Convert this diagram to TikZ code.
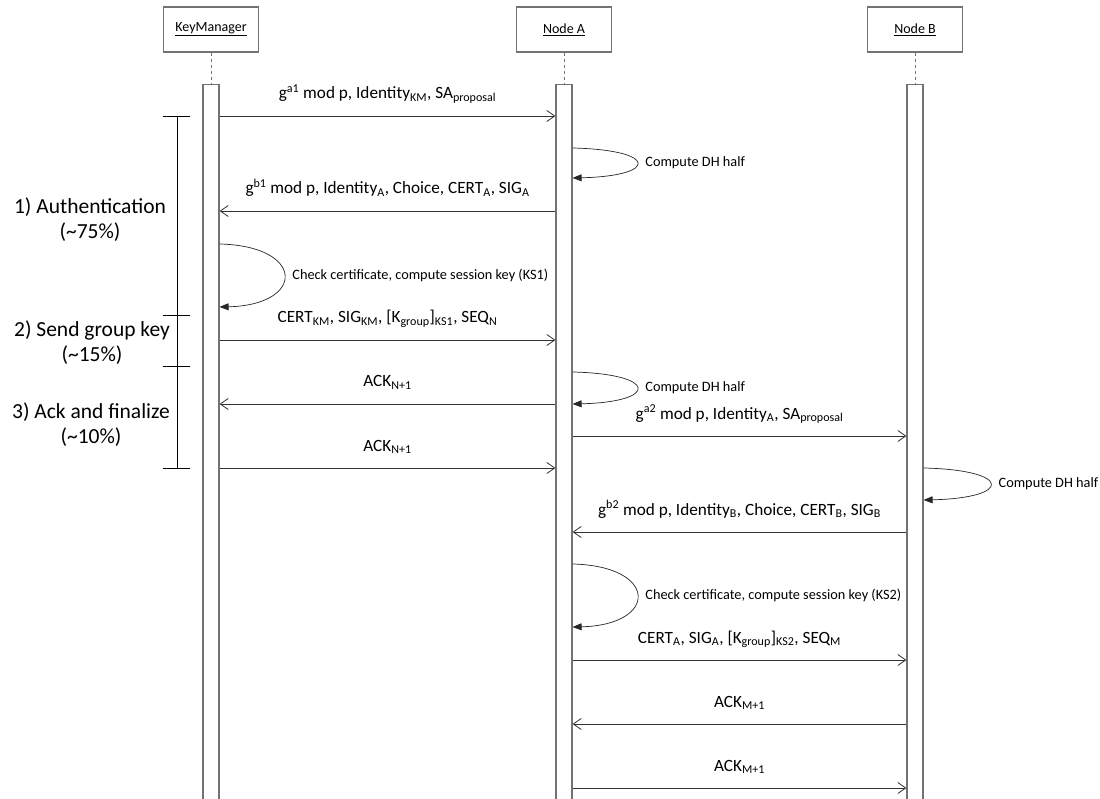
\documentclass[tikz,border=0pt]{standalone}
\usepackage{fontspec}
\setmainfont{Carlito}
\usetikzlibrary{arrows.meta}

\tikzset{
  head/.style={draw=black!55, line width=1.1pt, fill=white, minimum width=95pt, minimum height=45pt, font=\fontsize{14}{16}\selectfont},
  bar/.style={draw=black!55, line width=1.1pt, fill=white, minimum width=16pt},
  life/.style={draw=black!55, dashed, line width=1pt},
  msg/.style={draw=black!80, line width=0.8pt, -{Straight Barb[length=8pt,width=11pt]}},
  selfmsg/.style={draw=black!85, line width=0.7pt, -{Triangle[length=9pt,width=7pt]}},
  lbl/.style={font=\fontsize{17.2}{19}\selectfont, anchor=base, yshift=17pt},
  note/.style={font=\fontsize{14.3}{16}\selectfont, anchor=west, inner sep=0pt, xshift=8pt},
  phase/.style={font=\fontsize{21.5}{25}\selectfont, align=center},
}
\newcommand{\msub}[1]{\textsubscript{#1}}
\newcommand{\msup}[1]{\textsuperscript{#1}}

\begin{document}
\begin{tikzpicture}[x=1pt,y=-1pt]
\clip (0,0) rectangle (1100,799);
\fill[white] (0,0) rectangle (1100,799);

% lifelines
\foreach \id/\x/\name in {km/211/KeyManager, na/564/Node A, nb/915/Node B} {
  \node[head] (\id) at (\x,29.5) {\underline{\name}};
  \node[bar, minimum height=730pt, anchor=north] (bar\id) at (\x,84) {};
  \draw[life] (\id) -- (bar\id);
}

% phases
\coordinate (ph0) at (177,116);
\coordinate (ph1) at (177,315);
\coordinate (ph2) at (177,366);
\coordinate (ph3) at (177,468);
\draw[line width=0.9pt] (ph0) -- (ph3);
\foreach \p in {ph0,ph1,ph2,ph3}
  \draw[line width=0.9pt] ([xshift=-14pt]\p) -- ([xshift=13pt]\p);
\node[phase] (auth) at (90,220) {1) Authentication\\(\textasciitilde75\%)};
\node[phase] (send) at (92,342.5) {2) Send group key\\(\textasciitilde15\%)};
\node[phase] (ack) at (91,424.5) {3) Ack and finalize\\(\textasciitilde10\%)};

% messages
\draw[msg] (barkm.east |- 0,116) -- (barna.west |- 0,116)
  node[lbl, midway] {g\msup{a1} mod p, Identity\msub{KM}, SA\msub{proposal}};
\draw[selfmsg] (barna.east |- 0,148) .. controls +(86,2) and +(86,-2) .. (barna.east |- 0,178)
  node[note, pos=0.5] {Compute DH half};
\draw[msg] (barna.west |- 0,211) -- (barkm.east |- 0,211)
  node[lbl, midway] {g\msup{b1} mod p, Identity\msub{A}, Choice, CERT\msub{A}, SIG\msub{A}};
\draw[selfmsg] (barkm.east |- 0,244) .. controls +(86,2) and +(86,-2) .. (barkm.east |- 0,307)
  node[note, pos=0.5] {Check certificate, compute session key (KS1)};
\draw[msg] (barkm.east |- 0,340) -- (barna.west |- 0,340)
  node[lbl, midway] {CERT\msub{KM}, SIG\msub{KM}, [K\msub{group}]\msub{KS1}, SEQ\msub{N}};
\draw[selfmsg] (barna.east |- 0,372) .. controls +(86,2) and +(86,-2) .. (barna.east |- 0,404)
  node[note, pos=0.5] {Compute DH half};
\draw[msg] (barna.west |- 0,404) -- (barkm.east |- 0,404)
  node[lbl, midway] {ACK\msub{N+1}};
\draw[msg] (barna.east |- 0,436) -- (barnb.west |- 0,436)
  node[lbl, midway] {g\msup{a2} mod p, Identity\msub{A}, SA\msub{proposal}};
\draw[msg] (barkm.east |- 0,468) -- (barna.west |- 0,468)
  node[lbl, midway] {ACK\msub{N+1}};
\draw[selfmsg] (barnb.east |- 0,468) .. controls +(89,2) and +(89,-2) .. (barnb.east |- 0,500)
  node[note, pos=0.5] {Compute DH half};
\draw[msg] (barnb.west |- 0,532) -- (barna.east |- 0,532)
  node[lbl, midway] {g\msup{b2} mod p, Identity\msub{B}, Choice, CERT\msub{B}, SIG\msub{B}};
\draw[selfmsg] (barna.east |- 0,564) .. controls +(86,2) and +(86,-2) .. (barna.east |- 0,627)
  node[note, pos=0.5] {Check certificate, compute session key (KS2)};
\draw[msg] (barna.east |- 0,660) -- (barnb.west |- 0,660)
  node[lbl, midway] {CERT\msub{A}, SIG\msub{A}, [K\msub{group}]\msub{KS2}, SEQ\msub{M}};
\draw[msg] (barnb.west |- 0,724) -- (barna.east |- 0,724)
  node[lbl, midway] {ACK\msub{M+1}};
\draw[msg] (barna.east |- 0,788) -- (barnb.west |- 0,788)
  node[lbl, midway] {ACK\msub{M+1}};
\end{tikzpicture}
\end{document}
